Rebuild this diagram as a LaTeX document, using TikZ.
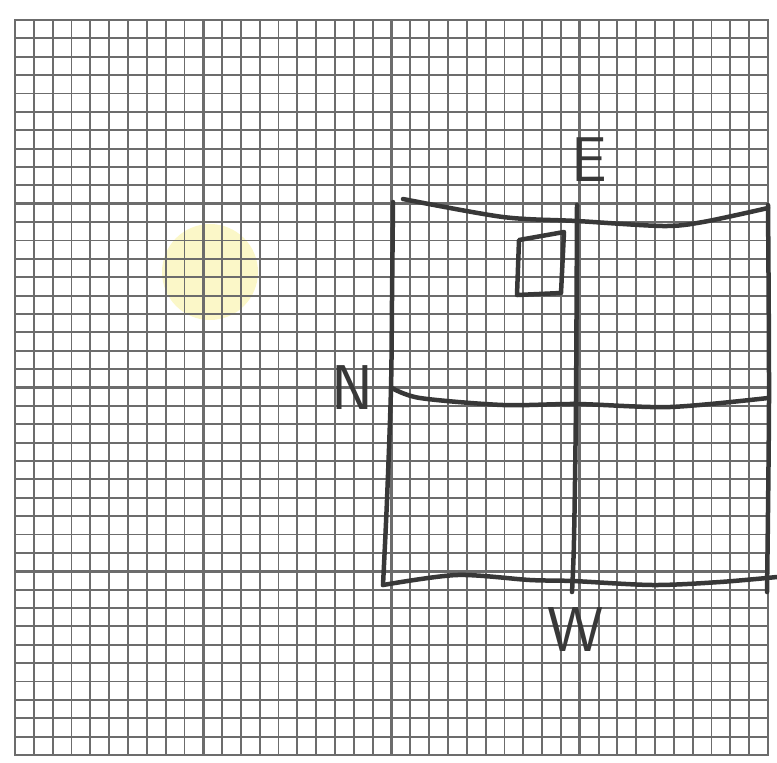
\documentclass[tikz,border=0pt]{standalone}
\usepackage{fontspec}
\usetikzlibrary{positioning}
\definecolor{gridGry}{HTML}{6C6C6C}
\definecolor{penDark}{HTML}{383838}
\definecolor{sunFill}{HTML}{FBF7C8}

\begin{document}
\begin{tikzpicture}[
  x=0.3mm, y=-0.3mm,
  minor/.style={draw=gridGry, line width=0.55mm},
  major/.style={draw=gridGry, line width=0.85mm},
  pen/.style={draw=penDark, line width=1.35mm, line cap=round, line join=round},
  lbl/.style={text=penDark, inner sep=0pt, font=\sffamily\fontsize{54}{54}\selectfont},
]
\useasboundingbox (0,0) rectangle (777,762);

% ---- Yellow spot (under the grid) ----
\fill[sunFill] (210,272) circle (48);

% ---- Graph paper: 40 x 40 small squares, heavy line every 10 ----
\foreach \i in {0,...,40}{
  \draw[minor] ({15+\i*18.825},20) -- ({15+\i*18.825},755);
  \draw[minor] (15,{20+\i*18.375}) -- (768,{20+\i*18.375});
}
\foreach \i in {10,20,30}{
  \draw[major] ({15+\i*18.825},20) -- ({15+\i*18.825},755);
  \draw[major] (15,{20+\i*18.375}) -- (768,{20+\i*18.375});
}
\draw[major] (15,20) rectangle (768,755);

% ---- Hand-drawn plan ----
% outer frame
\draw[pen] plot[smooth, tension=0.5] coordinates {(403,199) (503,217) (577,221) (663,226) (703,222) (768,208)};
\draw[pen] plot[smooth, tension=0.5] coordinates {(393,202) (392,300) (391,388) (387,500) (383,585)};
\draw[pen] plot[smooth, tension=0.5] coordinates {(768,205) (769,400) (767,592)};
\draw[pen] plot[smooth, tension=0.5] coordinates {(383,585) (457,575) (530,580) (573,581) (653,585) (720,582) (777,577)};
% cross lines
\draw[pen] plot[smooth, tension=0.5] coordinates {(392,388) (420,398) (503,405) (577,404) (670,407) (768,398)};
\draw[pen] plot[smooth, tension=0.5] coordinates {(577,205) (576,400) (574,540) (572,592)};
% small square
\draw[pen] (519,240) -- (564,232) -- (561,293) -- (517,295) -- cycle;

% ---- Labels ----
\node[lbl] (lblE) at (589,160) {E};
\node[lbl] (lblN) at (352,388) {N};
\node[lbl] (lblW) at (576,630) {W};

\end{tikzpicture}
\end{document}
